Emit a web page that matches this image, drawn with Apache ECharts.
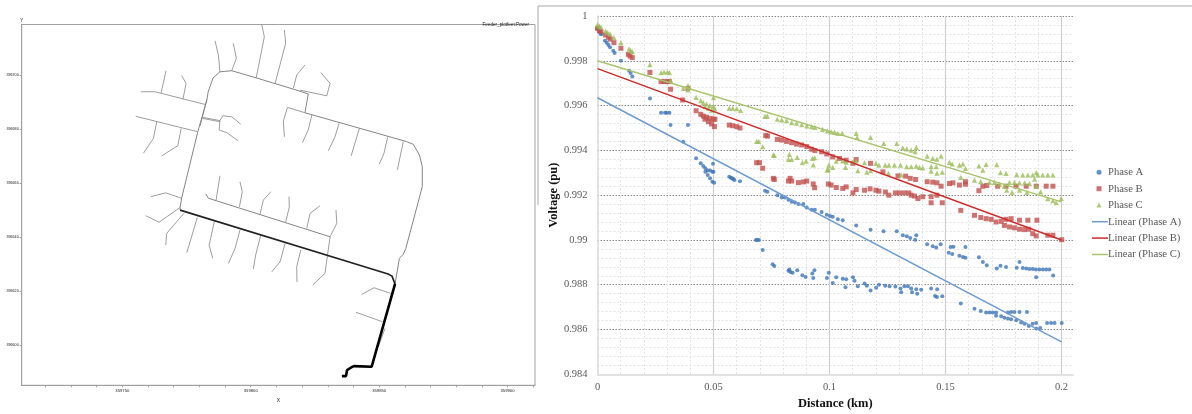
<!DOCTYPE html>
<html><head><meta charset="utf-8">
<style>html,body{margin:0;padding:0;background:#fff}#c{width:1192px;height:414px;filter:blur(0.35px)}</style>
<script src="https://cdn.jsdelivr.net/npm/echarts@6/dist/echarts.min.js"></script>
</head><body><div id="c"></div>
<script>
// ---- Feeder map: coordinates as [east - eastOrigin, north - northOrigin]
const eastOrigin = 359700, northOrigin = 396500;
const eastTickLabels = [359750, 359800, 359850, 359900];
const eastMinorTicks = [359720,359730,359740,359750,359760,359770,359780,359790,359800,359810,359820,359830,359840,359850,359860,359870,359880,359890,359900,359910];
const northTickLabels = [396600, 396620, 396640, 396660, 396680, 396700];
const feederTrunk = [[135.5,88.4],[137.1,88.4],[137.5,90.6],[139.4,91.8],[140.2,92.1],[147.1,91.9],[156.2,122.6]];
const feederHeavy = [[156.2,122.6],[155,125.5],[153.5,126.3],[72.5,150]];
const feederLoop = [[72.5,150],[72.5,151.1],[73.1,154.5],[79.4,179.1],[82.9,190.8],[83.4,193.8],[85.3,199],[88,201.3],[92.6,201.7],[102.3,199],[116.5,194.9],[122.4,193.1],[121.1,186.1],[142.6,180.3],[160.7,175.4],[163.3,174.4],[165.7,170.4],[166.8,166.1],[166.8,158.7],[164.6,150.8],[160.4,135.8],[159.4,133.6],[157.9,132.1],[156.2,122.6]];
const feederSecond = [[82.5,156],[83.5,154.4],[130.9,140.1]];
const feederLaterals = [
 [[119.2,194.5],[119.6,195.2],[129.6,192.4],[130.9,197],[127.3,201]],
 [[121.1,186.1],[114.3,188.1],[112.7,183],[113.1,177.2]],
 [[104.3,218.7],[105.3,214.3],[102.1,198.9]],
 [[113.1,216.8],[113.6,211.9],[109.5,197]],
 [[121.1,203.8],[117.9,200.1],[116.6,195.2]],
 [[86.1,212.8],[87.4,207.5],[88,201.3]],
 [[93.2,211.9],[94.4,206.3],[92.6,201.7]],
 [[123.8,185.3],[122.4,179.7],[120.1,175]],
 [[134.4,182.2],[132.8,177.2],[130.2,172]],
 [[142.3,180.3],[139.1,170.1]],
 [[153.3,177],[151.9,171.1],[150.1,167.1]],
 [[159.4,175.4],[157.1,164.9]],
 [[57.2,193.9],[62.7,193.9],[82.2,189.2]],
 [[67,201.7],[65.1,193.5]],
 [[73.1,199.9],[74.8,197],[73.6,191.1]],
 [[55.2,184.8],[79.2,179.1]],
 [[63.4,182.8],[62.1,176.6],[58.2,171.1]],
 [[72.9,180.3],[71.6,173.9],[65.3,170.1]],
 [[81.3,184.4],[88,183.2],[89.1,185],[92.6,184.6],[96.1,181.9]],
 [[81.3,184],[88,182.8]],
 [[88,183.2],[87.7,179.7],[90.7,178.7],[95.1,175.7]],
 [[82.9,191.1],[80.3,181.2]],
 [[61.1,155],[66.9,156.4],[73.1,154.4]],
 [[59.1,147.9],[64.3,145.5],[72.5,151]],
 [[74,148.8],[67.3,141.4],[66.9,137]],
 [[79.2,147.3],[75.1,134.2]],
 [[85.8,145.7],[83.8,137],[85.2,132.1]],
 [[95.8,142.6],[93.9,135.8],[91.3,130.2]],
 [[103.9,140.7],[101.9,133.3],[101,128.1]],
 [[113.4,137.7],[111.4,130.8],[108.2,127.1]],
 [[119.5,135.2],[117.9,129],[118,123.3]],
 [[130.9,140.1],[128.9,126.5],[128.3,125.9],[124.1,122.2]],
 [[88,162.7],[86.5,153.7]],
 [[95.8,160.5],[96.7,156.8],[95.6,151.2]],
 [[107.8,156.8],[104.9,153.7],[103.6,148.4]],
 [[114.9,155],[115,151.1],[113.6,145.5]],
 [[127,151.6],[123.1,148.8],[121.8,143.2]],
 [[133.2,150],[133.5,145.1],[130.9,140.1]],
 [[143.2,118.7],[148,121.2],[154.5,119.1]],
 [[141,112.1],[151.2,108.6]],
 [[152.3,106.1],[149.7,99.3]]
];

// ---- Voltage profile: [distance km, voltage pu]
const phaseA = [[0,.99945],[.0008,.9993],[.0014,.9992],[.0018,.9992],[.0032,.9989],[.004,.9988],[.0047,.9987],[.0054,.9986],[.0068,.99845],[.0074,.99835],[.0101,.998],[.0136,.99755],[.0143,.99745],[.015,.9973],[.0226,.99632],[.0274,.99568],[.0291,.99568],[.0298,.99568],[.031,.99568],[.0315,.99513],[.039,.99513],[.037,.99439],[.0425,.99365],[.0445,.99342],[.0456,.9933],[.0465,.9932],[.0475,.9931],[.0485,.9931],[.0495,.99305],[.05,.99305],[.0465,.99305],[.0475,.9929],[.0485,.99275],[.0495,.9926],[.0503,.99255],[.0498,.9934],[.0568,.99282],[.0575,.99278],[.058,.99275],[.0585,.99272],[.059,.99268],[.0614,.99262],[.0722,.9922],[.0732,.99215],[.0775,.992],[.0794,.9919],[.0808,.9919],[.0823,.9918],[.0837,.9917],[.0851,.99167],[.0866,.9916],[.0887,.9916],[.0902,.99145],[.0923,.99135],[.0937,.99135],[.0966,.99125],[.0988,.99113],[.1002,.99107],[.1014,.99103],[.1036,.99092],[.1057,.99088],[.1115,.99065],[.1177,.99046],[.1233,.99039],[.129,.99039],[.1316,.99021],[.1333,.99016],[.1348,.99009],[.1369,.99001],[.1374,.99021],[.1421,.98981],[.1445,.98972],[.146,.98966],[.1479,.98981],[.1522,.98969],[.1534,.9897],[.1586,.98969],[.1514,.98943],[.1529,.98937],[.156,.98929],[.1575,.98924],[.1586,.9892],[.1644,.98923],[.1661,.98902],[.1678,.98887],[.1721,.98872],[.1737,.98885],[.1761,.98879],[.1807,.98876],[.1819,.98902],[.1833,.98875],[.1848,.98872],[.1862,.9887],[.1876,.9887],[.189,.98868],[.1905,.98868],[.192,.98868],[.1934,.98868],[.1948,.98868],[.1891,.98833],[.1964,.98841],[.0683,.99],[.0689,.99],[.0696,.99],[.0712,.98955],[.0755,.98891],[.0762,.98884],[.0823,.98862],[.0827,.98868],[.0832,.98857],[.0841,.98853],[.0861,.98865],[.0883,.98842],[.0897,.98835],[.093,.9883],[.0926,.9885],[.0935,.98865],[.0989,.9883],[.0997,.98853],[.1014,.98808],[.1029,.98833],[.1057,.98827],[.1072,.98824],[.1069,.98789],[.1101,.98833],[.1108,.98818],[.1122,.98793],[.1151,.98805],[.1161,.98795],[.1177,.98774],[.1201,.98786],[.1213,.988],[.124,.98795],[.1259,.98793],[.1284,.98792],[.1306,.98783],[.1309,.98766],[.1323,.98793],[.1338,.98793],[.1352,.98783],[.1356,.98766],[.1374,.9878],[.1378,.9876],[.1395,.98778],[.1438,.98783],[.1464,.9878],[.1455,.9875],[.1463,.98745],[.1486,.98748],[.1566,.98716],[.1625,.98693],[.1652,.98683],[.1675,.98676],[.169,.98676],[.1704,.98676],[.1718,.98676],[.1718,.98661],[.174,.98659],[.1754,.98652],[.1769,.98649],[.1769,.98676],[.1783,.98678],[.1797,.98678],[.1819,.98678],[.1851,.98678],[.1783,.98646],[.1805,.98641],[.1826,.98631],[.1841,.98626],[.1859,.98616],[.1876,.98626],[.1891,.98629],[.1891,.98604],[.1908,.98607],[.1938,.98629],[.1955,.98629],[.197,.98629],[.2001,.98629]];
const phaseB = [[0,.99945],[.0008,.99935],[.0015,.9993],[.0035,.99915],[.0047,.99905],[.0055,.99897],[.0071,.99881],[.0101,.99856],[.0133,.99829],[.014,.99821],[.015,.99814],[.0226,.99748],[.0274,.99707],[.0287,.99707],[.0301,.99707],[.031,.99707],[.0315,.99673],[.0367,.99625],[.039,.99677],[.0425,.99577],[.0445,.99561],[.0456,.99553],[.047,.99548],[.0485,.99543],[.05,.99539],[.0506,.99539],[.0463,.99539],[.0478,.99528],[.0492,.99518],[.0504,.99506],[.0568,.99513],[.0583,.9951],[.06,.99506],[.0614,.995],[.0686,.99345],[.0698,.99345],[.0712,.9932],[.0725,.99466],[.0733,.99464],[.0758,.99275],[.0762,.9927],[.0775,.99449],[.0794,.99446],[.0815,.9944],[.0837,.99434],[.0858,.99428],[.088,.99424],[.0902,.99417],[.0923,.99405],[.0937,.99399],[.0966,.99394],[.0988,.99384],[.0823,.99263],[.083,.99275],[.0837,.99263],[.0866,.99256],[.0887,.99259],[.0902,.99263],[.093,.9925],[.0936,.99233],[.0995,.9925],[.1014,.99371],[.1043,.99364],[.1072,.99356],[.1115,.99359],[.1101,.99342],[.1177,.99342],[.123,.99304],[.1295,.99286],[.1328,.99285],[.1348,.99275],[.1371,.9927],[.1421,.9926],[.1445,.99258],[.1463,.99255],[.1481,.9924],[.1517,.99252],[.1532,.99255],[.156,.99245],[.1586,.99249],[.1586,.9926],[.1644,.9922],[.1661,.9924],[.1678,.99243],[.1725,.9924],[.1761,.9924],[.1804,.9924],[.1848,.9924],[.1891,.9924],[.1934,.9924],[.1963,.9924],[.1007,.99245],[.1029,.99234],[.1057,.9923],[.1072,.99237],[.1101,.9921],[.1115,.99225],[.1151,.99222],[.1175,.99228],[.12,.99222],[.1213,.99218],[.1241,.99214],[.1256,.992],[.1284,.9921],[.1302,.9921],[.1323,.9921],[.1342,.9921],[.1352,.992],[.1366,.99196],[.1381,.99185],[.1402,.99193],[.1438,.99193],[.1463,.992],[.1438,.99166],[.1486,.99166],[.1566,.99132],[.1625,.9911],[.1652,.991],[.1675,.99095],[.1697,.99092],[.1718,.9908],[.174,.99083],[.1761,.99092],[.1783,.99095],[.1819,.99088],[.1855,.99088],[.1894,.99088],[.1754,.99065],[.1776,.99058],[.1797,.99054],[.1819,.99048],[.1841,.99046],[.1859,.99048],[.1876,.99028],[.1891,.99018],[.1941,.99021],[.1963,.99021],[.2001,.99001]];
const phaseC = [[0,.9996],[.0008,.99955],[.0015,.9995],[.0035,.99933],[.0044,.99926],[.0054,.9992],[.0071,.99903],[.0101,.99881],[.0136,.99853],[.0143,.99846],[.015,.99841],[.0226,.99783],[.0274,.99747],[.0287,.9975],[.0301,.9975],[.031,.99747],[.0315,.99714],[.037,.99677],[.039,.99689],[.039,.9967],[.0425,.99637],[.0445,.99622],[.0456,.99613],[.047,.99607],[.0485,.99601],[.05,.99595],[.0506,.99585],[.0463,.99595],[.0478,.99588],[.0492,.9958],[.05,.99635],[.0568,.99589],[.0583,.99588],[.06,.99586],[.0617,.99579],[.0722,.99552],[.0732,.99553],[.0686,.9944],[.0695,.9944],[.0712,.99417],[.0758,.9938],[.0762,.99377],[.0775,.99539],[.0794,.99536],[.0815,.99533],[.0837,.99524],[.0858,.99521],[.088,.99515],[.0902,.99509],[.0923,.99506],[.0937,.99503],[.097,.99494],[.0991,.99487],[.0823,.9936],[.0837,.9936],[.0827,.99382],[.0861,.99369],[.0883,.99345],[.0899,.99352],[.0927,.99364],[.0936,.99367],[.093,.99335],[.0994,.99315],[.1007,.99483],[.1022,.9948],[.1036,.99476],[.1055,.99476],[.1115,.99476],[.1119,.99458],[.1177,.99458],[.1234,.99431],[.129,.99431],[.1316,.99411],[.1333,.99407],[.1352,.99401],[.1369,.99394],[.1374,.99413],[.099,.99312],[.0997,.99334],[.1014,.99324],[.1029,.99352],[.1057,.99353],[.1072,.99347],[.1069,.99324],[.1101,.99349],[.1115,.99353],[.1122,.99309],[.1151,.99345],[.1161,.99303],[.1177,.99309],[.12,.99342],[.1213,.99334],[.124,.99334],[.1256,.99334],[.1254,.99297],[.128,.99334],[.1306,.99334],[.1309,.9929],[.1333,.99327],[.1352,.99327],[.1374,.9933],[.1388,.99324],[.1402,.99322],[.1421,.99374],[.1445,.99364],[.1463,.99361],[.1481,.99374],[.1438,.99327],[.146,.99327],[.1438,.99307],[.1463,.99298],[.1486,.99303],[.1517,.99346],[.1529,.99339],[.156,.99334],[.1575,.99339],[.1586,.99319],[.1566,.99279],[.1625,.99267],[.1652,.9926],[.1644,.99331],[.1661,.99312],[.1675,.99337],[.1721,.99336],[.1737,.99301],[.1761,.99297],[.1807,.99292],[.1833,.9929],[.1855,.9929],[.1876,.9929],[.1898,.9929],[.1919,.9929],[.1941,.9929],[.1963,.9929],[.1891,.99301],[.1884,.99272],[.169,.99257],[.1711,.99257],[.1733,.99249],[.1754,.9924],[.1776,.99257],[.1797,.99257],[.1819,.99255],[.1841,.99255],[.1862,.99252],[.1891,.9924],[.1764,.99222],[.1787,.99212],[.1819,.99222],[.1851,.99212],[.191,.99215],[.1941,.99184],[.1963,.99175],[.1977,.99167],[.1999,.99185]];
const linearA = [[0,.99635],[.2,.98545]];
const linearB = [[0,.99765],[.2,.99]];
const linearC = [[0,.998],[.2,.9917]];
const distanceLabels = [0, .05, .1, .15, .2];
const markerNames = ['Phase A','Phase B','Phase C'];
const trendNames = ['Linear (Phase A)','Linear (Phase B)','Linear (Phase C)'];

const toMap = line => line.map(p => [eastOrigin + p[0], northOrigin + p[1]]);
const serif = '"Liberation Serif", serif', sans = '"Liberation Sans", sans-serif';
const mapLine = (pts, w, color) => ({type:'line', xAxisIndex:0, yAxisIndex:0, data:toMap(pts), showSymbol:false, symbol:'none',
  silent:true, animation:false, z:2, lineStyle:{width:w, color}, emphasis:{disabled:true}});
const marks = (name, data, symbol, size, color) => ({name, type:'scatter', xAxisIndex:1, yAxisIndex:1, data, symbol, symbolSize:size,
  itemStyle:{color}, animation:false, z:3});
const trend = (name, data, color) => ({name, type:'line', xAxisIndex:1, yAxisIndex:1, data, showSymbol:false, symbol:'none',
  lineStyle:{width:1.5, color}, itemStyle:{color}, animation:false, z:4});

const chart = echarts.init(document.getElementById('c'), null, {renderer:'canvas'});
chart.setOption({
  backgroundColor:'#fff',
  animation:false,
  title:{text:'Feeder_plotfeet:Power', right:1192-534, top:17, textStyle:{fontFamily:sans, fontSize:4.6, fontWeight:'normal', color:'#222'}},
  grid:[
    {left:21.7, top:24.5, width:513.3, height:360.8, show:true, borderColor:'#a0a0a0', borderWidth:1, backgroundColor:'transparent', outerBoundsMode:'none'},
    {left:597.5, top:16, width:475.6, height:358.3, outerBoundsMode:'none'}
  ],
  xAxis:[
    {type:'value', gridIndex:0, min:359710.8, max:359910.7, name:'X', nameLocation:'middle', nameGap:13,
     nameTextStyle:{fontFamily:sans, fontSize:5, color:'#222'},
     axisLine:{show:true, onZero:false, lineStyle:{color:'#a0a0a0', width:1}},
     axisTick:{show:true, length:2, customValues:eastMinorTicks, lineStyle:{color:'#a0a0a0'}, inside:false},
     axisLabel:{customValues:eastTickLabels, formatter:v=>String(v), fontFamily:sans, fontSize:4.2, color:'#222', margin:4, hideOverlap:false},
     splitLine:{show:false}},
    {type:'value', gridIndex:1, min:0, max:.205, interval:.05, name:'Distance (km)', nameLocation:'middle', nameGap:22,
     nameTextStyle:{fontFamily:serif, fontSize:12.5, fontWeight:'bold', color:'#111'},
     axisLine:{show:true, onZero:false, lineStyle:{color:'#d9d9d9', width:1.5}},
     axisTick:{show:false},
     axisLabel:{customValues:distanceLabels, formatter:v=>String(v), fontFamily:serif, fontSize:10.5, color:'#595959', margin:7},
     splitLine:{show:true, showMinLine:false, showMaxLine:false, lineStyle:{color:'#cfcfcf', width:1.2}}, z:1},
    {type:'value', gridIndex:1, min:0, max:.205, interval:.01, position:'top',
     axisLine:{show:false}, axisTick:{show:false}, axisLabel:{show:false},
     splitLine:{show:true, showMinLine:false, showMaxLine:false, lineStyle:{color:'#e4e4e4', width:1, type:[2,2]}}, z:0}
  ],
  yAxis:[
    {type:'value', gridIndex:0, min:396585, max:396718.85, name:'Y', nameLocation:'end', nameGap:1,
     nameTextStyle:{fontFamily:sans, fontSize:4.6, color:'#222', align:'center'},
     axisLine:{show:true, onZero:false, lineStyle:{color:'#a0a0a0', width:1}},
     axisTick:{show:true, length:2, customValues:northTickLabels, lineStyle:{color:'#a0a0a0'}},
     axisLabel:{customValues:northTickLabels, formatter:v=>String(v), fontFamily:sans, fontSize:3.7, color:'#222', margin:3},
     splitLine:{show:false}},
    {type:'value', gridIndex:1, min:.984, max:1, interval:.002, name:'Voltage (pu)', nameLocation:'middle', nameGap:36,
     nameTextStyle:{fontFamily:serif, fontSize:12.5, fontWeight:'bold', color:'#111'},
     axisLine:{show:true, onZero:false, lineStyle:{color:'#d9d9d9', width:1.5}},
     axisTick:{show:false},
     axisLabel:{fontFamily:serif, fontSize:10.5, color:'#595959', margin:10},
     minorTick:{show:false, splitNumber:5},
     splitLine:{show:true, showMinLine:false, lineStyle:{color:'#8c8c8c', width:1, type:[1.5,1.5]}},
     minorSplitLine:{show:true, lineStyle:{color:'#e4e4e4', width:1, type:[2,2]}}}
  ],
  legend:[
    {data:markerNames, orient:'vertical', left:1096.5, top:166.3, itemWidth:5, itemHeight:5, itemGap:4.4, padding:0,
     textStyle:{fontFamily:serif, fontSize:10.7, color:'#595959', padding:[0,0,0,1.5], lineHeight:12}, selectedMode:false},
    {data:trendNames, icon:'rect', orient:'vertical', left:1092, top:215.7, itemWidth:16, itemHeight:1.5, itemGap:4.4, padding:0,
     textStyle:{fontFamily:serif, fontSize:10.7, color:'#595959', padding:[0,0,0,-5], lineHeight:12}, selectedMode:false}
  ],
  graphic:[
    {type:'line', silent:true, shape:{x1:538,y1:6,x2:1192,y2:6}, style:{stroke:'#a8a8a8', lineWidth:1}},
    {type:'line', silent:true, shape:{x1:538,y1:6,x2:538,y2:205}, style:{stroke:'#a8a8a8', lineWidth:1}}
  ],
  series:[
    ...feederLaterals.map(l => mapLine(l, 0.8, '#858585')),
    mapLine(feederLoop, 0.9, '#777'),
    mapLine(feederSecond, 0.9, '#777'),
    mapLine(feederHeavy, 1.7, '#222'),
    mapLine(feederTrunk, 2.6, '#000'),
    marks('Phase A', phaseA, 'circle', 4, '#3f75b8'),
    marks('Phase B', phaseB, 'rect', 5, '#c0504d'),
    marks('Phase C', phaseC, 'triangle', 5.2, '#9bbb59'),
    trend('Linear (Phase A)', linearA, '#6f9bd1'),
    trend('Linear (Phase B)', linearB, '#d02a2a'),
    trend('Linear (Phase C)', linearC, '#a9c46c')
  ]
});
</script></body></html>
